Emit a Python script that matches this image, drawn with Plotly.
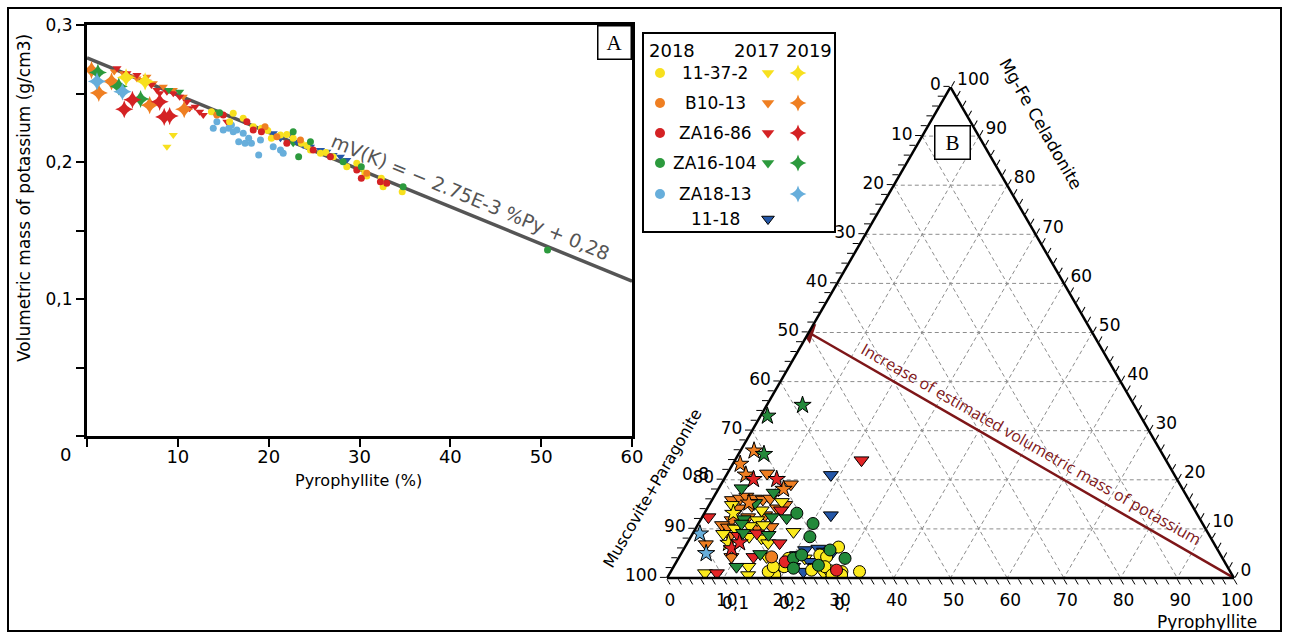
import plotly.graph_objects as go

W, H = 1291, 639
FONT = "DejaVu Sans"

# ---------------- colours per sample ----------------
samples = ["11-37-2", "B10-13", "ZA16-86", "ZA16-104", "ZA18-13", "11-18"]
colors = ["#F7E01E", "#EF7F22", "#D42224", "#2C9A3D", "#67AEDB", "#2457A8"]
years = ["2018", "2017", "2019"]

# ---------------- Panel A data : (Pyrophyllite %, volumetric mass g/cm3) ----------------
A18_11372 = [(13.7, 0.2367), (16.1, 0.2355), (15.7, 0.2294), (17.2, 0.2319), (18.3, 0.2258),
             (19.2, 0.2246), (20.3, 0.2173), (21.3, 0.2197), (22.7, 0.2173), (23.6, 0.2136),
             (24.6, 0.2088), (25.7, 0.2063), (27.1, 0.2039), (28.6, 0.1966), (29.7, 0.1990),
             (30.1, 0.1954), (30.8, 0.1898), (32.4, 0.1881), (32.6, 0.1820), (34.7, 0.1783),
             (30.6, 0.1917), (26.3, 0.2070), (22.0, 0.2200), (19.9, 0.2230), (24.2, 0.2120)]
A18_B1013 = [(14.3, 0.2343), (19.6, 0.2258), (23.5, 0.2161), (30.8, 0.1917), (20.9, 0.2185)]
A18_ZA1686 = [(15.0, 0.2343), (18.3, 0.2234), (19.2, 0.2221), (22.0, 0.2136), (24.9, 0.2088),
              (26.8, 0.2039), (29.7, 0.1942), (30.2, 0.1881), (32.3, 0.1856), (33.0, 0.1844),
              (17.6, 0.2294)]
A18_ZA16104 = [(14.6, 0.2360), (23.3, 0.2039), (24.6, 0.2148), (28.2, 0.2002), (30.2, 0.1966),
               (34.8, 0.1820), (22.7, 0.2221), (50.7, 0.1358)]
A18_ZA1813 = [(13.9, 0.2246), (14.3, 0.2294), (15.0, 0.2234), (15.6, 0.2246), (16.1, 0.2221),
              (16.5, 0.2234), (17.2, 0.2209), (16.7, 0.2148), (17.8, 0.2173), (17.4, 0.2136),
              (18.1, 0.2136), (18.9, 0.2051), (19.1, 0.2161), (20.5, 0.2112), (21.3, 0.2088),
              (21.6, 0.2063), (15.9, 0.2270)]

A17_11372 = [(8.8, 0.2112), (9.5, 0.2197)]
A17_B1013 = [(4.0, 0.2647), (4.7, 0.2623), (6.2, 0.2599), (7.3, 0.2574), (8.4, 0.2550),
             (9.5, 0.2526), (10.6, 0.2477), (6.6, 0.2623), (3.0, 0.2660), (5.5, 0.2610)]
A17_ZA1686 = [(3.3, 0.2684), (4.4, 0.2647), (5.5, 0.2635), (6.6, 0.2586), (7.1, 0.2562),
              (7.7, 0.2526), (8.0, 0.2501), (8.8, 0.2513), (9.5, 0.2501), (10.2, 0.2477),
              (11.0, 0.2440), (11.3, 0.2392), (11.9, 0.2404), (12.4, 0.2367), (12.8, 0.2343),
              (15.4, 0.2294)]
A17_ZA16104 = [(9.0, 0.2526), (10.2, 0.2513), (13.9, 0.2367), (22.7, 0.2136)]
A17_1118 = [(20.5, 0.2209), (21.3, 0.2173), (22.4, 0.2197), (23.1, 0.2148), (23.8, 0.2124),
            (24.6, 0.2112), (25.7, 0.2088), (26.4, 0.2075), (27.1, 0.2051), (27.9, 0.2039),
            (28.6, 0.2015)]

A19_11372 = [(4.3, 0.2617), (6.4, 0.2588)]
A19_B1013 = [(0.5, 0.2671), (1.3, 0.2504), (2.7, 0.2588), (6.9, 0.2415), (10.7, 0.2385)]
A19_ZA1686 = [(4.1, 0.2385), (5.0, 0.2454), (8.5, 0.2329), (9.1, 0.2335), (8.0, 0.2439)]
A19_ZA16104 = [(1.2, 0.2653), (3.5, 0.2552), (5.9, 0.2460)]
A19_ZA1813 = [(1.1, 0.2588), (3.9, 0.2513)]

trend_x = [0, 60]
trend_y = [0.276, 0.113]

xA_ticks = [0, 10, 20, 30, 40, 50, 60]
yA_ticks = [0, 0.05, 0.1, 0.15, 0.2, 0.25, 0.3]
yA_labels = ["", "", "0,1", "", "0,2", "", "0,3"]

# ---------------- Panel B data : (Mg-Fe Celadonite %, Pyrophyllite %) ; Muscovite = rest ----------------
T17_11372 = [(15.5, 12.5), (14.9, 4.0), (13.8, 9.8), (11.8, 10.0), (10.1, 6.9), (10.6, 9.3),
             (10.8, 11.6), (9.0, 5.4), (8.4, 10.3), (8.1, 12.6), (7.1, 14.3), (4.3, 15.4),
             (2.3, 13.2), (1.0, 6.2), (0.6, 14.0), (4.0, 22.3), (1.0, 27.1), (9.4, 17.6)]
T17_B1013 = [(21.3, 7.0), (15.9, 3.5), (16.2, 4.8), (16.6, 5.7), (16.2, 7.4), (16.0, 8.9),
             (16.2, 10.1), (14.2, 12.3), (14.2, 5.5), (14.7, 7.6), (11.8, 5.5), (12.4, 8.1),
             (12.8, 10.9), (10.8, 4.3), (10.3, 5.6), (10.3, 10.7), (10.4, 13.2), (8.6, 6.8),
             (4.3, 9.2), (19.1, 12.3), (14.9, 13.4), (6.9, 3.4)]
T17_ZA1686 = [(13.8, 13.2), (12.4, 1.1), (8.6, 8.3), (9.1, 11.3), (7.1, 16.3), (4.3, 13.1),
              (1.0, 8.3), (24.0, 22.3)]
T17_ZA16104 = [(18.3, 4.0), (15.3, 7.9), (12.2, 15.0), (12.0, 7.5), (12.4, 12.3), (11.1, 7.6),
               (9.2, 8.8), (8.8, 13.5), (4.9, 14.0), (2.3, 11.1), (17.4, 10.1)]
T17_1118 = [(21.0, 18.4), (12.8, 22.5), (5.7, 21.5), (6.0, 23.7), (5.4, 25.0), (2.3, 21.1),
            (3.3, 23.6), (2.3, 25.0), (1.3, 23.4), (5.0, 26.5), (4.7, 20.6)]

T18_11372 = [(6.3, 27.1), (1.3, 33.3), (1.3, 30.2), (1.5, 28.0), (4.0, 19.4), (4.7, 24.6),
             (4.3, 26.0), (2.3, 26.7), (1.6, 24.7), (2.3, 19.5), (0.6, 30.5), (0.6, 18.7),
             (1.3, 17.2), (2.3, 17.6), (0.6, 28.8)]
T18_B1013 = [(4.3, 16.3)]
T18_ZA1686 = [(3.3, 19.2), (1.6, 29.1)]
T18_ZA16104 = [(13.2, 16.3), (11.1, 20.2), (8.4, 21.0), (4.0, 29.4), (4.0, 20.3), (4.7, 21.4),
               (5.7, 25.9), (2.6, 25.4), (2.0, 21.3)]

T19_11372 = [(7.1, 7.3), (13.2, 5.1)]
T19_B1013 = [(25.9, 2.4), (23.2, 1.3), (21.0, 3.4), (18.1, 11.5), (15.3, 6.8)]
T19_ZA1686 = [(20.1, 5.2), (20.1, 9.3), (6.0, 8.4), (7.2, 9.2)]
T19_ZA16104 = [(33.0, 1.2), (35.2, 6.3), (25.2, 4.5)]
T19_ZA1813 = [(9.0, 1.3), (5.0, 4.4)]

arrow_a = [50, 0]
arrow_b = [50, 0]
arrow_c = [0, 100]

tern_ticks = list(range(0, 101, 2))

# ---------------- figure ----------------
fig = go.Figure()


def add_xy(pts, color, symbol, size):
    fig.add_trace(go.Scatter(
        x=[p[0] for p in pts], y=[p[1] for p in pts], mode="markers",
        marker=dict(color=color, symbol=symbol, size=size, line=dict(width=0)),
        xaxis="x", yaxis="y", showlegend=False, hoverinfo="skip"))


def add_tern(pts, color, symbol, size):
    fig.add_trace(go.Scatterternary(
        a=[p[0] for p in pts], c=[p[1] for p in pts], b=[100 - p[0] - p[1] for p in pts],
        mode="markers",
        marker=dict(color=color, symbol=symbol, size=size, line=dict(color="black", width=1)),
        showlegend=False, hoverinfo="skip"))


# trend line
fig.add_trace(go.Scatter(x=trend_x, y=trend_y, mode="lines", line=dict(color="#555555", width=3.5),
                         xaxis="x", yaxis="y", showlegend=False, hoverinfo="skip"))

# panel A markers
for pts, col in [(A17_B1013, colors[1]), (A17_ZA1686, colors[2]), (A17_ZA16104, colors[3]),
                 (A17_11372, colors[0]), (A17_1118, colors[5])]:
    add_xy(pts, col, "triangle-down", 8)
for pts, col in [(A18_ZA1813, colors[4]), (A18_11372, colors[0]), (A18_B1013, colors[1]),
                 (A18_ZA1686, colors[2]), (A18_ZA16104, colors[3])]:
    add_xy(pts, col, "circle", 7)
for pts, col in [(A19_B1013, colors[1]), (A19_ZA16104, colors[3]), (A19_ZA1813, colors[4]),
                 (A19_ZA1686, colors[2]), (A19_11372, colors[0])]:
    add_xy(pts, col, "star-diamond", 13)

# ternary grid (every 10 %)
ga, gb, gc = [], [], []
for k in range(10, 100, 10):
    ga += [k, k, None, 100 - k, 0, None, 100 - k, 0, None]
    gb += [100 - k, 0, None, k, k, None, 0, 100 - k, None]
    gc += [0, 100 - k, None, 0, 100 - k, None, k, k, None]
fig.add_trace(go.Scatterternary(a=ga, b=gb, c=gc, mode="lines",
                                line=dict(color="#8c8c8c", width=1, dash="4px,3px"),
                                showlegend=False, hoverinfo="skip", connectgaps=False))

# arrow
fig.add_trace(go.Scatterternary(a=arrow_a, b=arrow_b, c=arrow_c, mode="lines",
                                line=dict(color="#7E1618", width=2.5), showlegend=False, hoverinfo="skip"))
fig.add_trace(go.Scatterternary(a=arrow_a[:1], b=arrow_b[:1], c=arrow_c[:1], mode="markers",
                                marker=dict(symbol="triangle-left", size=18, color="#7E1618", angle=18,
                                            line=dict(width=0)),
                                showlegend=False, hoverinfo="skip"))

# ternary markers
for pts, col in [(T17_B1013, colors[1]), (T17_11372, "#FBEA1C"), (T17_ZA1686, "#E32526"),
                 (T17_ZA16104, "#23893A"), (T17_1118, colors[5])]:
    add_tern(pts, col, "triangle-down", 13)
for pts, col in [(T18_11372, "#FBEA1C"), (T18_B1013, colors[1]), (T18_ZA1686, "#E32526"),
                 (T18_ZA16104, "#23893A")]:
    add_tern(pts, col, "circle", 12)
for pts, col in [(T19_11372, "#FBEA1C"), (T19_B1013, colors[1]), (T19_ZA1686, "#E32526"),
                 (T19_ZA16104, "#23893A"), (T19_ZA1813, colors[4])]:
    add_tern(pts, col, "star", 13)

# ---------------- legend (own hidden axes) ----------------
leg_rows = [40, 70, 100, 130, 161, 186]
col_circle, col_label, col_tri, col_star = 17, 72, 125, 155
has_circle = [True, True, True, True, True, False]
has_tri = [True, True, True, True, False, True]
has_star = [True, True, True, True, True, False]
for i, (s, col) in enumerate(zip(samples, colors)):
    if has_circle[i]:
        fig.add_trace(go.Scatter(x=[col_circle], y=[leg_rows[i]], mode="markers",
                                 marker=dict(symbol="circle", size=10, color=col),
                                 xaxis="x3", yaxis="y3", showlegend=False, hoverinfo="skip"))
    if has_tri[i]:
        fig.add_trace(go.Scatter(x=[col_tri], y=[leg_rows[i]], mode="markers",
                                 marker=dict(symbol="triangle-down", size=11, color=col,
                                             line=dict(color="black", width=1 if i == 5 else 0)),
                                 xaxis="x3", yaxis="y3", showlegend=False, hoverinfo="skip"))
    if has_star[i]:
        fig.add_trace(go.Scatter(x=[col_star], y=[leg_rows[i]], mode="markers",
                                 marker=dict(symbol="star-diamond", size=12, color=col),
                                 xaxis="x3", yaxis="y3", showlegend=False, hoverinfo="skip"))


def ann(x, y, text, size=17, family=FONT, color="black", angle=0, **kw):
    d = dict(x=x / W, y=1 - y / H, xref="paper", yref="paper", text=text, showarrow=False,
             xanchor="center", yanchor="middle", textangle=angle,
             font=dict(size=size, family=family, color=color))
    d.update(kw)
    return d


annotations = []
for i, s in enumerate(samples):
    annotations.append(dict(x=col_label, y=leg_rows[i], xref="x3", yref="y3", text=s, showarrow=False,
                            xanchor="center", yanchor="middle",
                            font=dict(size=17, family=FONT, color="black")))
for yr, xx in zip(years, [29, 114, 166]):
    annotations.append(dict(x=xx, y=18, xref="x3", yref="y3", text=yr, showarrow=False,
                            xanchor="center", yanchor="middle",
                            font=dict(size=18, family=FONT, color="black")))

annotations += [
    ann(358, 480, "Pyrophyllite (%)", 16),
    ann(24, 198, "Volumetric mass of potassium (g/cm3)", 17, angle=-90),
    ann(65, 455, "0", 18),
    dict(x=42.2, y=0.1745, xref="x", yref="y", text="mV(K) = − 2.75E-3 %Py + 0,28", textangle=22.5,
         showarrow=False, xanchor="center", yanchor="middle",
         font=dict(size=19, family=FONT, color="#555555")),
    ann(614, 42, "A", 21, family="Liberation Serif", bgcolor="white", bordercolor="black",
        borderwidth=1.5, width=30, height=30),
    ann(952.5, 142, "B", 21, family="Liberation Serif", bgcolor="white", bordercolor="black",
        borderwidth=1.5, width=32, height=30),
    ann(1041, 124, "Mg-Fe Celadonite", 17, angle=60),
    ann(652, 488, "Muscovite+Paragonite", 16, angle=-60),
    ann(1207, 622, "Pyrophyllite", 17),
    ann(1031, 444, "Increase of estimated volumetric mass of potassium", 16, family="Open Sans",
        color="#7E1618", angle=29.8),
    ann(695, 474, "0,8", 17),
    ann(735, 603, "0,1", 17),
    ann(792, 603, "0,2", 17),
    ann(842, 604, "0,", 17),
]

shapes = [
    dict(type="rect", xref="paper", yref="paper", x0=8 / W, x1=1281 / W, y0=1 - 631 / H, y1=1 - 8 / H,
         line=dict(color="black", width=2)),
    dict(type="rect", xref="paper", yref="paper", x0=643 / W, x1=835 / W, y0=1 - 232 / H, y1=1 - 33 / H,
         line=dict(color="black", width=2)),
]


def tern_axis():
    return dict(
        tickmode="array", tickvals=tern_ticks,
        ticktext=[str(100 - v) if v % 10 == 0 else "" for v in tern_ticks],
        ticks="outside", ticklen=6, tickwidth=1.2, tickcolor="black",
        showline=True, linecolor="black", linewidth=2.5, showgrid=False,
        tickfont=dict(size=17, family=FONT, color="black"), title=dict(text=""))


fig.update_layout(
    width=W, height=H, autosize=False, margin=dict(l=0, r=0, t=0, b=0, pad=0, autoexpand=False),
    paper_bgcolor="white", plot_bgcolor="white", showlegend=False,
    font=dict(family=FONT, color="black"),
    xaxis=dict(domain=[87 / W, 632 / W], range=[0, 60], tickmode="array", tickvals=xA_ticks,
               ticktext=["" if v == 0 else str(v) for v in xA_ticks],
               ticks="outside", ticklen=8, tickwidth=2, tickcolor="black", ticklabelstandoff=-6,
               showline=True, linewidth=3, linecolor="black", mirror=True,
               showgrid=False, zeroline=False, tickfont=dict(size=18, family=FONT), fixedrange=True),
    yaxis=dict(domain=[1 - 436 / H, 1 - 25 / H], range=[0, 0.3], tickmode="array", tickvals=yA_ticks,
               ticktext=yA_labels, ticks="outside", ticklen=8, tickwidth=2, tickcolor="black",
               showline=True, linewidth=3, linecolor="black", mirror=True,
               showgrid=False, zeroline=False, tickfont=dict(size=17, family=FONT), fixedrange=True),
    xaxis3=dict(domain=[643 / W, 835 / W], range=[0, 192], visible=False, fixedrange=True),
    yaxis3=dict(domain=[1 - 232 / H, 1 - 33 / H], range=[199, 0], visible=False, fixedrange=True),
    ternary=dict(domain=dict(x=[667 / W, 1234 / W], y=[1 - 578 / H, 1 - 87 / H]), sum=100,
                 bgcolor="white", aaxis=tern_axis(), baxis=tern_axis(), caxis=tern_axis()),
    annotations=annotations, shapes=shapes,
)

fig.write_html(
    "out.html",
    config={"responsive": False, "displayModeBar": False},
    post_script="document.body.style.margin='0';document.documentElement.style.overflow='hidden';"
                "document.body.style.overflow='hidden';window.scrollTo(0,0);",
)
